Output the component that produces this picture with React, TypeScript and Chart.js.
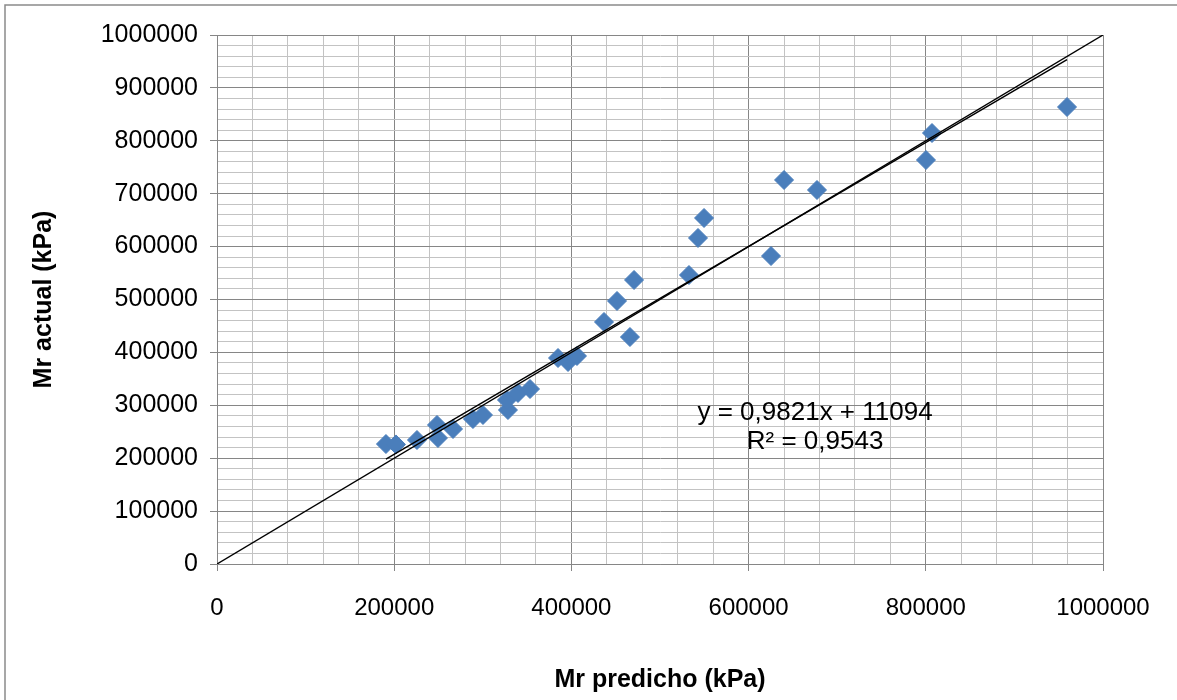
import React, { useEffect, useRef } from 'react';
import { Chart, registerables } from 'chart.js';

Chart.register(...registerables);

const predicted = [190700, 202000, 225700, 248300, 249400, 266400, 288900, 300200, 328400, 327300, 339700, 353300, 384900, 396200, 406300, 436800, 451500, 470700, 466100, 532700, 542900, 549700, 625300, 640000, 677200, 800200, 807000, 959400];
const actual = [226800, 226000, 234400, 262800, 238200, 255200, 274100, 281700, 291100, 310000, 323300, 330800, 389400, 381900, 393200, 457500, 497200, 536900, 429100, 546300, 616300, 654100, 582200, 725900, 707000, 763700, 814700, 863900];

const trendSlope = 0.9821;
const trendIntercept = 11094;
const trendLabel = 'y = 0,9821x + 11094';
const r2Label = 'R² = 0,9543';

const identityX = [0, 1000000];
const xMajorTicks = [0, 200000, 400000, 600000, 800000, 1000000];
const yMajorTicks = [0, 100000, 200000, 300000, 400000, 500000, 600000, 700000, 800000, 900000, 1000000];

const xTitle = 'Mr predicho (kPa)';
const yTitle = 'Mr actual (kPa)';

const FONT = '"Liberation Sans", Arial, sans-serif';
const MAJOR = '#868686';
const MINOR = '#c3c3c3';

export default function App() {
  const ref = useRef<HTMLCanvasElement | null>(null);

  useEffect(() => {
    if (!ref.current) return;
    const xmin = Math.min(...predicted);
    const xmax = Math.max(...predicted);
    const trendData = [xmin, xmax].map((x) => ({ x, y: trendSlope * x + trendIntercept }));
    const pts = predicted.map((x, i) => ({ x, y: actual[i] }));
    const identity = identityX.map((v) => ({ x: v, y: v }));

    const frame = {
      id: 'frame',
      beforeDraw(chart: any) {
        const c = chart.ctx;
        c.save();
        c.fillStyle = '#fff';
        c.fillRect(0, 0, chart.width, chart.height);
        c.strokeStyle = '#8a8a8a';
        c.lineWidth = 1.5;
        c.beginPath();
        c.moveTo(5, chart.height);
        c.lineTo(5, 5);
        c.lineTo(chart.width, 5);
        c.stroke();
        c.restore();
      },
    };

    const annot = {
      id: 'annot',
      afterDatasetsDraw(chart: any) {
        const c = chart.ctx;
        const xs = chart.scales.x;
        const ys = chart.scales.y;
        const cx = xs.getPixelForValue(675000);
        const cy = ys.getPixelForValue(285000);
        c.save();
        c.fillStyle = '#000';
        c.font = `26px ${FONT}`;
        c.textAlign = 'center';
        c.textBaseline = 'middle';
        c.fillText(trendLabel, cx, cy);
        c.fillText(r2Label, cx, cy + 29);
        c.restore();
      },
    };

    const isXMajor = (v: number) => xMajorTicks.includes(v);
    const isYMajor = (v: number) => yMajorTicks.includes(v);

    const chart = new Chart(ref.current, {
      type: 'scatter',
      data: {
        datasets: [
          {
            label: 'identity',
            data: identity,
            showLine: true,
            borderColor: '#000',
            borderWidth: 1.4,
            pointRadius: 0,
            order: 0,
          },
          {
            label: 'trend',
            data: trendData,
            showLine: true,
            borderColor: '#000',
            borderWidth: 1.4,
            pointRadius: 0,
            order: 1,
          },
          {
            label: 'Mr',
            data: pts,
            pointStyle: 'rectRot',
            pointRadius: 9.5,
            pointBackgroundColor: '#4a7ebb',
            pointBorderColor: '#4a7ebb',
            pointBorderWidth: 1,
            showLine: false,
            order: 2,
          },
        ],
      },
      plugins: [frame, annot],
      options: {
        animation: false,
        responsive: false,
        devicePixelRatio: 1,
        layout: { padding: { left: 0, right: 74, top: 35, bottom: 0 } },
        plugins: { legend: { display: false }, tooltip: { enabled: false } },
        scales: {
          x: {
            type: 'linear',
            min: 0,
            max: 1000000,
            afterBuildTicks: (s: any) => {
              const t = [];
              for (let v = 0; v <= 1000000; v += 40000) t.push({ value: v });
              s.ticks = t;
            },
            afterFit: (s: any) => {
              s.height = 136;
            },
            ticks: {
              autoSkip: false,
              maxRotation: 0,
              minRotation: 0,
              padding: 23,
              color: '#000',
              font: { family: FONT, size: 24 },
              callback: (v: any) => (isXMajor(Number(v)) ? String(v) : ''),
            },
            grid: {
              color: (ctx: any) => (isXMajor(ctx.tick?.value) ? MAJOR : MINOR),
              tickColor: (ctx: any) => (isXMajor(ctx.tick?.value) ? MAJOR : 'rgba(0,0,0,0)'),
              tickLength: 7,
              lineWidth: 1,
            },
            border: { color: MAJOR, width: 1 },
            title: {
              display: true,
              text: xTitle,
              color: '#000',
              font: { family: FONT, size: 25, weight: 'bold' },
              padding: { top: 0, bottom: 5 },
            },
          },
          y: {
            type: 'linear',
            min: 0,
            max: 1000000,
            afterBuildTicks: (s: any) => {
              const t = [];
              for (let v = 0; v <= 1000000; v += 20000) t.push({ value: v });
              s.ticks = t;
            },
            afterFit: (s: any) => {
              s.width = 217;
            },
            ticks: {
              autoSkip: false,
              padding: 12,
              color: '#000',
              font: { family: FONT, size: 25 },
              callback: (v: any) => (isYMajor(Number(v)) ? String(v) : ''),
            },
            grid: {
              color: (ctx: any) => (isYMajor(ctx.tick?.value) ? MAJOR : MINOR),
              tickColor: (ctx: any) => (isYMajor(ctx.tick?.value) ? MAJOR : 'rgba(0,0,0,0)'),
              tickLength: 7,
              lineWidth: 1,
            },
            border: { color: MAJOR, width: 1 },
            title: {
              display: true,
              text: yTitle,
              color: '#000',
              font: { family: FONT, size: 25, weight: 'bold' },
              padding: { top: 29, bottom: 0 },
            },
          },
        },
      },
    } as any);
    return () => chart.destroy();
  }, []);

  return (
    <div style={{ position: 'absolute', left: 0, top: 0, width: 1177, height: 700, background: '#fff' }}>
      <canvas ref={ref} width={1177} height={700} style={{ display: 'block', width: 1177, height: 700 }} />
    </div>
  );
}
